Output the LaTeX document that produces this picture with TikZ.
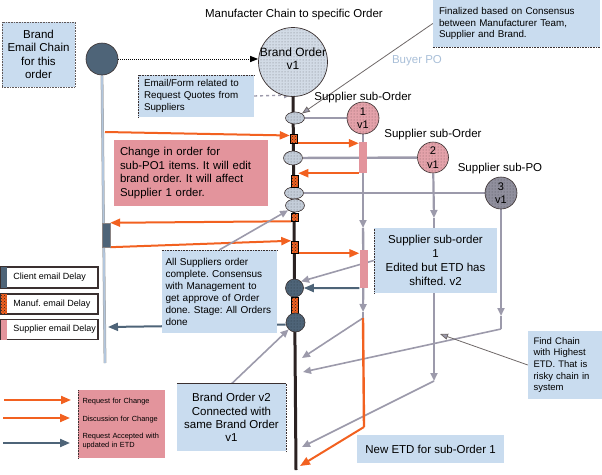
\documentclass[tikz,border=0pt]{standalone}
\usepackage{fontspec}
\setmainfont{Liberation Sans}
\usetikzlibrary{arrows.meta,patterns,shapes.geometric}
\definecolor{lblue}{HTML}{C9DCEF}
\definecolor{pinkbox}{HTML}{E3949C}
\definecolor{orng}{HTML}{F26120}
\definecolor{dblue}{HTML}{4E6478}
\definecolor{gline}{HTML}{9C9AAB}
\definecolor{cpink}{HTML}{E4A2AA}
\definecolor{cgray}{HTML}{908F9D}
\definecolor{cbo}{HTML}{D2DBE6}
\definecolor{cell}{HTML}{C4CDD9}
\definecolor{chainc}{HTML}{2B2222}
\definecolor{outl}{HTML}{3A3030}
\definecolor{buyer}{HTML}{A9BFD8}
\definecolor{ecline}{HTML}{B3C6DC}
\definecolor{thinl}{HTML}{6E6868}
\pgfdeclarelayer{bg}
\pgfsetlayers{bg,main}
\hyphenpenalty=10000
\exhyphenpenalty=10000
\newcommand{\myfs}[2]{\fontsize{#1}{#2}\selectfont}
\tikzset{
  dotsfill/.style={preaction={fill=#1}, pattern=dots, pattern color=#1!55!black},
  mfill/.style={preaction={fill=orng}, pattern=crosshatch dots, pattern color=black!85},
  lbox/.style={fill=lblue, inner sep=0pt},
  pbox/.style={fill=pinkbox, inner sep=0pt},
  dotb/.style={draw=outl, densely dotted, line width=0.6pt},
  ell/.style={ellipse, draw=outl, line width=0.6pt, dotsfill=cell, minimum width=19pt, inner sep=0pt},
  mrect/.style={rectangle, draw=black, line width=0.5pt, mfill, minimum width=7pt, inner sep=0pt},
  prect/.style={rectangle, fill=pinkbox, minimum width=8pt, inner sep=0pt},
  dcirc/.style={circle, draw=outl, line width=0.6pt, dotsfill=dblue, inner sep=0pt},
  scirc/.style={circle, draw=outl, line width=0.6pt, minimum size=32pt, inner sep=0pt, align=center, font=\myfs{11}{13.5}},
  chainl/.style={draw=chainc, line width=3pt},
  ecl/.style={draw=gray!70, double=ecline, double distance=1.8pt, line width=0.5pt},
  gl/.style={draw=gline, line width=2.4pt},
  gla/.style={draw=gline, line width=2.2pt, -{Triangle[length=8pt,width=7pt]}},
  gta/.style={draw=gline, line width=1.6pt, -{Triangle[length=8pt,width=7pt]}},
  nla/.style={draw=thinl, line width=0.8pt, -{Triangle[length=8pt,width=6pt,fill=gline]}},
  gda/.style={draw=gline, line width=1.4pt, dashed, -{Triangle[length=7pt,width=6pt]}},
  ola/.style={draw=orng, line width=2pt, -{Triangle[length=10pt,width=8pt]}},
  ol/.style={draw=orng, line width=2.4pt},
  bla/.style={draw=dblue, line width=2pt, -{Triangle[length=10pt,width=8pt]}},
  kda/.style={draw=black, line width=1pt, densely dotted, -{Triangle[length=8pt,width=6pt]}},
}
\begin{document}
\frenchspacing
\begin{tikzpicture}[x=1pt,y=-1pt]
\useasboundingbox (0,0) rectangle (602,474);
% ---------- labels ----------
\node[font=\myfs{11.5}{13}] (title) at (294,15) {Manufacter Chain to specific Order};
\node[font=\myfs{11.5}{13}, text=buyer] (buyer) at (417,61) {Buyer PO};
\node[font=\myfs{11.5}{13}] (lab1) at (363,98) {Supplier sub-Order};
\node[font=\myfs{11.5}{13}] (lab2) at (433,135) {Supplier sub-Order};
\node[font=\myfs{11.5}{13}] (lab3) at (500,169) {Supplier sub-PO};
% ---------- boxes ----------
\node[lbox, draw=outl!80, densely dotted, line width=0.6pt, minimum width=73pt, minimum height=65pt, align=center, font=\myfs{11.5}{13.5}] (bec) at (38.5,54.5) {Brand\\Email Chain\\for this\\order};
\node[lbox, minimum width=116pt, minimum height=42pt, text width=104pt, align=left, font=\myfs{9.8}{12}] (ef) at (196,96) {Email/Form related to\\Request Quotes from\\Suppliers};
\draw[dotb] (ef.south west) -- (ef.north west) -- (ef.north east);
\node[lbox, minimum width=167pt, minimum height=47pt, text width=155pt, align=left, font=\myfs{9.8}{11.7}] (fin) at (516.5,23.5) {Finalized based on Consensus\\between Manufacturer Team,\\Supplier and Brand.};
\draw[dotb] (fin.south west) -- (fin.south east);
\node[pbox, minimum width=154pt, minimum height=66pt, text width=142pt, align=left, font=\myfs{11.4}{13.4}] (chg) at (191,173) {Change in order for\\sub-PO1 items. It will edit\\brand order. It will affect\\Supplier 1 order.};
\node[lbox, minimum width=115pt, minimum height=83pt, text width=108pt, align=left, font=\myfs{10}{12}] (as) at (219.5,291.5) {All Suppliers order\\complete. Consensus\\with Management to\\get approve of Order\\done. Stage: All Orders\\done};
\draw[dotb] (as.north west) -- (as.north east);
\node[lbox, minimum width=123pt, minimum height=65pt, align=center, font=\myfs{11.5}{14}] (sb) at (435.5,260.5) {Supplier sub-order\\1\\Edited but ETD has\\shifted. v2};
\draw[dotb] (sb.south west) -- (sb.north west);
\node[lbox, minimum width=74pt, minimum height=68pt, text width=63pt, align=left, font=\myfs{9.5}{11.7}] (fc) at (565,365) {Find Chain\\with Highest\\ETD. That is\\risky chain in\\system};
\node[lbox, minimum width=109pt, minimum height=67pt, align=center, font=\myfs{11.5}{13.3}] (bv) at (231.5,417.5) {Brand Order v2\\Connected with\\same Brand Order\\v1};
\draw[outl, line width=0.8pt] (bv.north west) -- (bv.north east);
\draw[dotb] (bv.north east) -- (bv.south east);
\node[lbox, minimum width=147pt, minimum height=28pt, font=\myfs{11.5}{13}] (ne) at (430.5,449) {New ETD for sub-Order 1};
% ---------- legend ----------
\node[draw=outl, line width=1.5pt, fill=white, minimum width=97pt, minimum height=21pt, inner sep=0pt] (l1) at (49.5,277.5) {};
\node[draw=outl, line width=1.5pt, fill=white, minimum width=97pt, minimum height=20pt, inner sep=0pt] (l2) at (49.5,304) {};
\node[draw=outl, line width=1.5pt, fill=white, minimum width=97pt, minimum height=20pt, inner sep=0pt] (l3) at (49.5,329.5) {};
\fill[dblue] ([xshift=0.75pt,yshift=-0.75pt]l1.north west) rectangle ([xshift=6.5pt,yshift=0.75pt]l1.south west);
\fill[mfill] ([xshift=0.75pt,yshift=-0.75pt]l2.north west) rectangle ([xshift=6.5pt,yshift=0.75pt]l2.south west);
\fill[pinkbox] ([xshift=0.75pt,yshift=-0.75pt]l3.north west) rectangle ([xshift=6.5pt,yshift=0.75pt]l3.south west);
\node[anchor=west, inner sep=0pt, font=\myfs{9}{11}] (l1t) at ([xshift=13pt]l1.west) {Client email Delay};
\node[anchor=west, inner sep=0pt, font=\myfs{9}{11}] (l2t) at ([xshift=13pt]l2.west) {Manuf. email Delay};
\node[anchor=west, inner sep=0pt, font=\myfs{9}{11}] (l3t) at ([xshift=13pt]l3.west) {Supplier email Delay};
\node[pbox, inner xsep=4.5pt, minimum width=87pt, minimum height=68pt, text width=78pt, align=left, font=\myfs{7.4}{9}] (lg) at (121.5,424) {Request for Change\\[9pt]Discussion for Change\\[8pt]Request Accepted with\\updated in ETD};
\draw[dotb] (lg.south west) -- (lg.north west);
% ---------- circles and chain items ----------
\node[circle, draw=outl, line width=0.7pt, dotsfill=cbo, minimum size=69pt, inner sep=0pt] (bo) at (293,62) {};
\node[font=\myfs{12}{13}, align=center] (bot) at (293,58.5) {Brand Order\\v1};
\node[circle, draw=outl, line width=0.6pt, fill=dblue, minimum size=32pt, inner sep=0pt] (ec) at (102,59) {};
\node[rectangle, fill=dblue, draw=outl!60, minimum width=8pt, minimum height=24pt, inner sep=0pt] (cd) at (106,235) {};
\node[ell, minimum height=12pt] (e1) at (295,118) {};
\node[ell, minimum height=14pt] (e2) at (293,158) {};
\node[ell, minimum height=12pt] (e3) at (294,193) {};
\node[ell, minimum height=13pt] (e4) at (295,205.5) {};
\node[mrect, minimum height=9pt] (d1) at (293.5,138.5) {};
\node[mrect, minimum height=12pt] (d2) at (294.5,181) {};
\node[mrect, minimum height=8pt] (d3) at (295,217) {};
\node[mrect, minimum height=12pt] (d4) at (295,247) {};
\node[mrect, minimum height=16pt] (d5) at (294.5,305) {};
\node[dcirc, minimum size=18pt] (dc1) at (294.5,288) {};
\node[dcirc, minimum size=19pt] (dc2) at (295.5,322.5) {};
\node[prect, minimum height=31pt] (p1) at (363,157.5) {};
\node[prect, minimum height=38pt] (p2) at (363.5,269) {};
\node[scirc, dotsfill=cpink] (c1) at (363,118) {1\\v1};
\node[scirc, dotsfill=cpink, minimum size=31pt] (c2) at (433,157.5) {2\\v1};
\node[scirc, dotsfill=cgray] (c3) at (501,193) {3\\v1};
% ---------- coordinates ----------
\coordinate (chbot) at (296,470);
\coordinate (ecend) at (105,363);
\coordinate (oa1) at (105,132);
\coordinate (ec2) at (108,327);
\coordinate (ef1) at (291,95);
\coordinate (a1) at (363,228);
\coordinate (a2) at (363,312);
\coordinate (b1) at (363,318);
\coordinate (b2) at (364,427);
\coordinate (t1) at (302,358);
\coordinate (t2) at (303,372);
\coordinate (t3) at (302,447);
\coordinate (t4) at (300,466);
\coordinate (a3) at (434,218);
\coordinate (a4) at (434,381);
\coordinate (a5) at (501,316);
\coordinate (b3) at (501,329);
\coordinate (f1) at (440,334);
\coordinate (ls1) at (4,400);
\coordinate (le1) at (71,400);
\coordinate (ls2) at (3,418);
\coordinate (le2) at (70,418);
\coordinate (ls3) at (3,443);
\coordinate (le3) at (70,443);
% ---------- connectors ----------
\begin{pgfonlayer}{bg}
\draw[chainl] (bo.south) -- (chbot);
\draw[ecl] (ec.south) -- (ecend);
\draw[kda] (ec.east) -- (ec.east -| bo.west);
\draw[gda] (ef.east) -- (ef1);
\draw[gl] (e1) -- (c1);
\draw[gl] (e2) -- (c2);
\draw[gl] (e3) -- (c3);
\draw[gl] (c1) -- (p1);
\draw[gla] (p1) -- (a1);
\draw[gl] (a1) -- (p2);
\draw[gla] (p2) -- (a2);
\draw[gl] (a2) -- (b1);
\draw[gta] (b1) -- (t1);
\draw[gla] (c2) -- (a3);
\draw[gla] (a3) -- (a4);
\draw[gta] (a4) -- (t3);
\draw[gla] (c3) -- (a5);
\draw[gl] (a5) -- (b3);
\draw[gta] (b3) -- (t2);
\draw[ol] (b1) -- (b2);
\draw[ola] (b2) -- (t4);
\draw[ola] (oa1) -- ([yshift=3pt]d1.west);
\draw[ola] (d1.south east) -- (d1.south east -| p1.west);
\draw[ola] (p1.south west) -- (p1.south west -| d2.east);
\draw[ola] (d3.south west) -- (cd.north east);
\draw[ola] (cd.south east) -- (d4.north west);
\draw[ola] (d4.south east) -- (d4.south east -| p2.west);
\draw[bla] (p2.south west) -- (dc1.east);
\draw[bla] ([yshift=-2pt]dc2.west) -- (ec2);
\draw[gta] (sb.west) -- (dc1.north east);
\draw[gta] (as.north) -- (e4.south west);
\draw[gta] (bv.north) -- (dc2.south west);
\draw[nla] (fin.west) -- (e1.north east);
\draw[nla] (fc.west) -- (f1);
\draw[ola] (ls1) -- (le1);
\draw[ola] (ls2) -- (le2);
\draw[bla] (ls3) -- (le3);
\end{pgfonlayer}
\end{tikzpicture}
\end{document}
